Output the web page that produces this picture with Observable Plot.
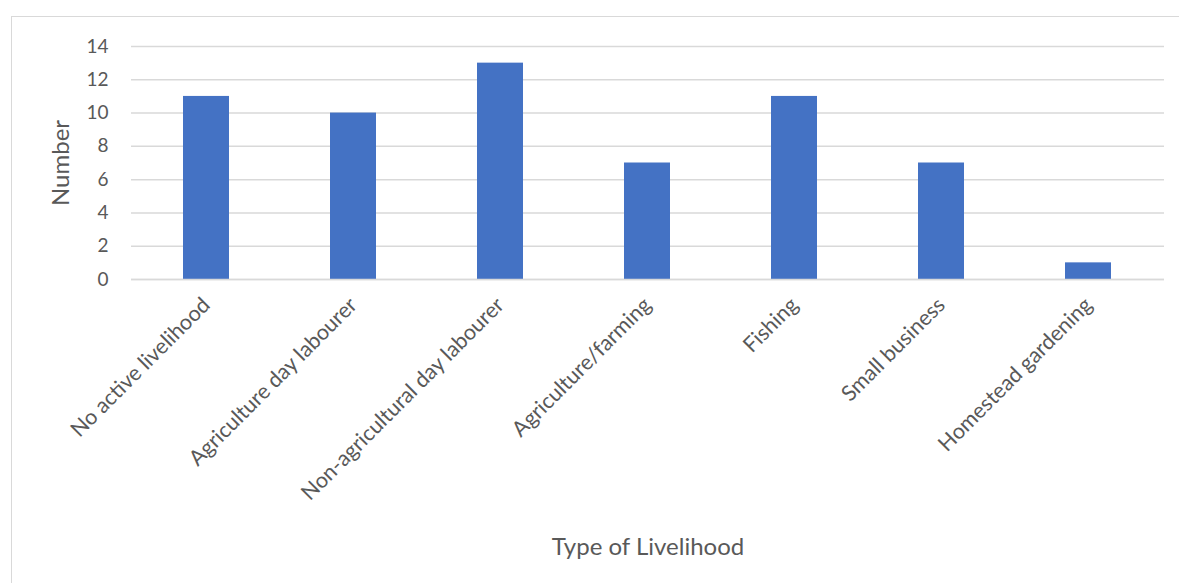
<!DOCTYPE html>
<html>
<head>
<meta charset="utf-8">
<script src="https://cdn.jsdelivr.net/npm/d3@7"></script>
<script src="https://cdn.jsdelivr.net/npm/@observablehq/plot@0.6"></script>
<style>
  html, body { margin: 0; padding: 0; background: #fff; }
  #wrap { position: relative; width: 1179px; height: 583px; overflow: hidden; }
  #border { position: absolute; left: 11px; top: 16px; width: 1190px; height: 600px; border: 1.5px solid #d9d9d9; box-sizing: border-box; }
  #chart { position: absolute; left: 0; top: 0; }
</style>
</head>
<body>
<div id="wrap"><div id="border"></div><div id="chart"></div></div>
<script>
const categories = ["No active livelihood", "Agriculture day labourer", "Non-agricultural day labourer", "Agriculture/farming", "Fishing", "Small business", "Homestead gardening"];
const values = [11, 10, 13, 7, 11, 7, 1];
const yTicks = [0, 2, 4, 6, 8, 10, 12, 14];
const xTitle = "Type of Livelihood";
const yTitle = "Number";

const data = categories.map((c, i) => ({category: c, value: values[i]}));
const font = "Lato, 'Open Sans', sans-serif";
const textColor = "#595959";

const chart = Plot.plot({
  width: 1179,
  height: 583,
  marginLeft: 131,
  marginRight: 15,
  marginTop: 46,
  marginBottom: 304,
  style: {fontFamily: font, color: textColor, background: "transparent"},
  x: {domain: categories, paddingInner: 0.684, paddingOuter: 0.342},
  y: {domain: [0, 14]},
  marks: [
    Plot.gridY(yTicks, {stroke: "#d9d9d9", strokeOpacity: 1, strokeWidth: 1.5}),
    Plot.barY(data, {x: "category", y: "value", fill: "#4472C4"}),
    Plot.axisY({ticks: yTicks, tickSize: 0, tickPadding: 23, label: null, fontSize: 19, fill: textColor}),
    Plot.axisY({ticks: [], label: yTitle, labelArrow: "none", labelAnchor: "center", labelOffset: 80, fontSize: 24, fill: textColor}),
    Plot.axisX({tickSize: 0, tickRotate: -45, tickPadding: 22, label: null, fontSize: 21.5, fill: textColor}),
    Plot.axisX({ticks: [], label: xTitle, labelArrow: "none", labelAnchor: "center", labelOffset: 275, fontSize: 24, fill: textColor}),
    Plot.ruleY([0], {stroke: "#d9d9d9", strokeWidth: 1.5})
  ]
});
document.getElementById("chart").appendChild(chart);
</script>
</body>
</html>
